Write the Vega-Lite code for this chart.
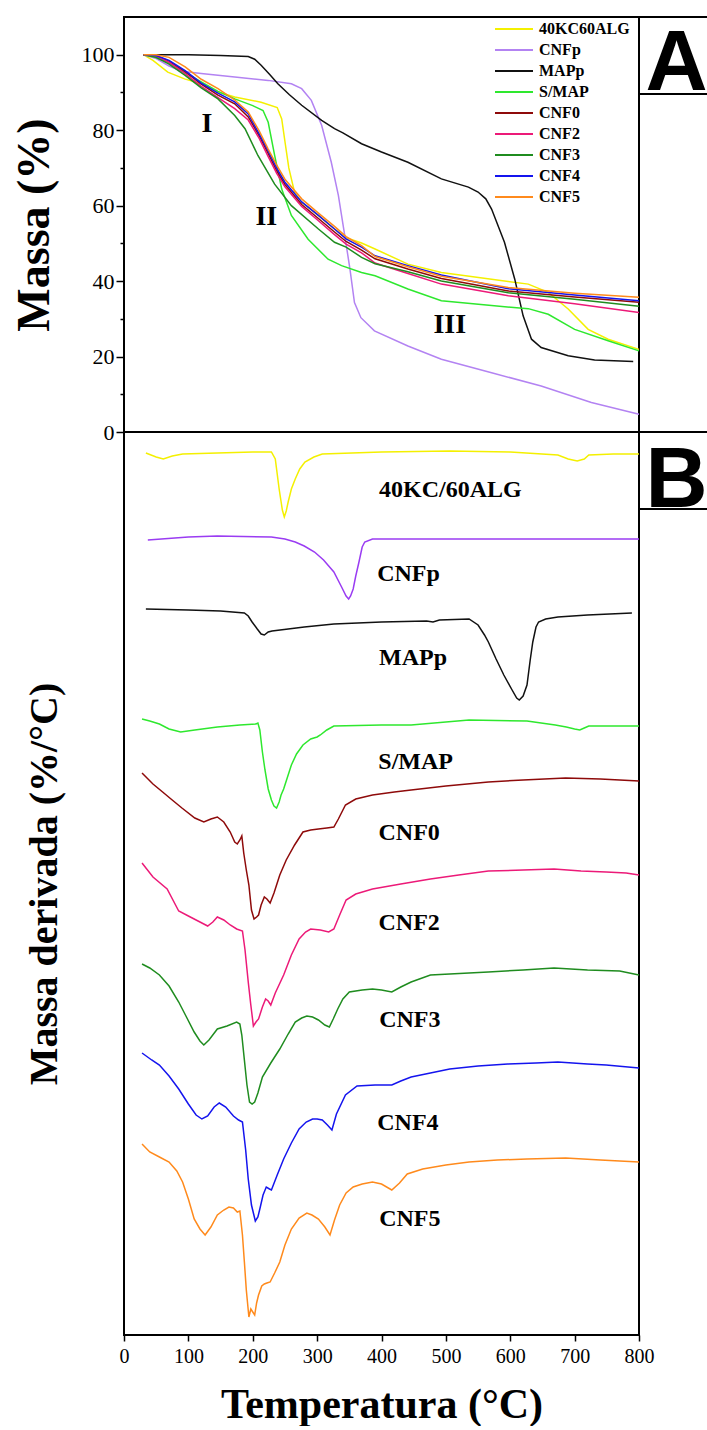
{
  "$schema": "https://vega.github.io/schema/vega-lite/v6.json",
  "padding": {"left": 10, "top": 15, "right": 0, "bottom": 0},
  "config": {
    "font": "Liberation Serif",
    "view": {"stroke": "black", "strokeWidth": 2},
    "axis": {
      "grid": false,
      "domain": false,
      "labelFont": "Liberation Serif",
      "labelColor": "black",
      "tickColor": "black",
      "tickWidth": 1.5,
      "titleFont": "Liberation Serif",
      "titleFontWeight": "bold",
      "titleColor": "black",
      "labelFlush": false
    }
  },
  "datasets": {
    "tga": [
      {"series": "40KC60ALG", "T": 30, "M": 100}, {"series": "40KC60ALG", "T": 45, "M": 98.5}, {"series": "40KC60ALG", "T": 68, "M": 95.4}, {"series": "40KC60ALG", "T": 94, "M": 93.6}, {"series": "40KC60ALG", "T": 120, "M": 92.3}, {"series": "40KC60ALG", "T": 146, "M": 90.1}, {"series": "40KC60ALG", "T": 172, "M": 88.8}, {"series": "40KC60ALG", "T": 213, "M": 87.4}, {"series": "40KC60ALG", "T": 238, "M": 86}, {"series": "40KC60ALG", "T": 245, "M": 83}, {"series": "40KC60ALG", "T": 250, "M": 77}, {"series": "40KC60ALG", "T": 256, "M": 70}, {"series": "40KC60ALG", "T": 265, "M": 63.5}, {"series": "40KC60ALG", "T": 276, "M": 60.9}, {"series": "40KC60ALG", "T": 302, "M": 57.4}, {"series": "40KC60ALG", "T": 327, "M": 53.8}, {"series": "40KC60ALG", "T": 345, "M": 51.5}, {"series": "40KC60ALG", "T": 369, "M": 50.1}, {"series": "40KC60ALG", "T": 390, "M": 48.5}, {"series": "40KC60ALG", "T": 441, "M": 44.5}, {"series": "40KC60ALG", "T": 493, "M": 42.3}, {"series": "40KC60ALG", "T": 571, "M": 40.5}, {"series": "40KC60ALG", "T": 628, "M": 39.2}, {"series": "40KC60ALG", "T": 659, "M": 37}, {"series": "40KC60ALG", "T": 690, "M": 32.6}, {"series": "40KC60ALG", "T": 721, "M": 27.2}, {"series": "40KC60ALG", "T": 752, "M": 24.6}, {"series": "40KC60ALG", "T": 800, "M": 21.9},
      {"series": "CNFp", "T": 30, "M": 100}, {"series": "CNFp", "T": 50, "M": 99}, {"series": "CNFp", "T": 70, "M": 97}, {"series": "CNFp", "T": 90, "M": 95.6}, {"series": "CNFp", "T": 120, "M": 95}, {"series": "CNFp", "T": 172, "M": 94.1}, {"series": "CNFp", "T": 224, "M": 93.2}, {"series": "CNFp", "T": 260, "M": 92.3}, {"series": "CNFp", "T": 276, "M": 91}, {"series": "CNFp", "T": 291, "M": 87.9}, {"series": "CNFp", "T": 307, "M": 81.3}, {"series": "CNFp", "T": 322, "M": 71.5}, {"series": "CNFp", "T": 333, "M": 62.7}, {"series": "CNFp", "T": 343, "M": 52}, {"series": "CNFp", "T": 351, "M": 43.2}, {"series": "CNFp", "T": 358, "M": 34.3}, {"series": "CNFp", "T": 368, "M": 30.3}, {"series": "CNFp", "T": 389, "M": 26.8}, {"series": "CNFp", "T": 441, "M": 22.8}, {"series": "CNFp", "T": 493, "M": 19.3}, {"series": "CNFp", "T": 571, "M": 15.7}, {"series": "CNFp", "T": 648, "M": 12.2}, {"series": "CNFp", "T": 726, "M": 7.8}, {"series": "CNFp", "T": 800, "M": 4.7},
      {"series": "MAPp", "T": 30, "M": 100}, {"series": "MAPp", "T": 100, "M": 100}, {"series": "MAPp", "T": 150, "M": 99.8}, {"series": "MAPp", "T": 193, "M": 99.5}, {"series": "MAPp", "T": 203, "M": 98.8}, {"series": "MAPp", "T": 213, "M": 97.2}, {"series": "MAPp", "T": 226, "M": 94.8}, {"series": "MAPp", "T": 239, "M": 92.3}, {"series": "MAPp", "T": 257, "M": 89.4}, {"series": "MAPp", "T": 276, "M": 86.6}, {"series": "MAPp", "T": 307, "M": 82.6}, {"series": "MAPp", "T": 327, "M": 80.4}, {"series": "MAPp", "T": 340, "M": 79.3}, {"series": "MAPp", "T": 369, "M": 76.4}, {"series": "MAPp", "T": 400, "M": 74.2}, {"series": "MAPp", "T": 441, "M": 71.5}, {"series": "MAPp", "T": 493, "M": 67.1}, {"series": "MAPp", "T": 535, "M": 64.9}, {"series": "MAPp", "T": 550, "M": 63.6}, {"series": "MAPp", "T": 562, "M": 61.8}, {"series": "MAPp", "T": 571, "M": 59.1}, {"series": "MAPp", "T": 591, "M": 50.3}, {"series": "MAPp", "T": 607, "M": 40.5}, {"series": "MAPp", "T": 620, "M": 30.8}, {"series": "MAPp", "T": 633, "M": 24.6}, {"series": "MAPp", "T": 648, "M": 22.4}, {"series": "MAPp", "T": 690, "M": 20.2}, {"series": "MAPp", "T": 731, "M": 19.1}, {"series": "MAPp", "T": 791, "M": 18.7},
      {"series": "S/MAP", "T": 30, "M": 100}, {"series": "S/MAP", "T": 45, "M": 99.5}, {"series": "S/MAP", "T": 69, "M": 98}, {"series": "S/MAP", "T": 95, "M": 95.3}, {"series": "S/MAP", "T": 120, "M": 92.8}, {"series": "S/MAP", "T": 146, "M": 90.3}, {"series": "S/MAP", "T": 172, "M": 88.3}, {"series": "S/MAP", "T": 200, "M": 86.5}, {"series": "S/MAP", "T": 216, "M": 85.2}, {"series": "S/MAP", "T": 224, "M": 82.1}, {"series": "S/MAP", "T": 234, "M": 73.3}, {"series": "S/MAP", "T": 245, "M": 64.4}, {"series": "S/MAP", "T": 260, "M": 57.4}, {"series": "S/MAP", "T": 286, "M": 51.1}, {"series": "S/MAP", "T": 317, "M": 45.8}, {"series": "S/MAP", "T": 338, "M": 44.1}, {"series": "S/MAP", "T": 369, "M": 42.3}, {"series": "S/MAP", "T": 390, "M": 41.4}, {"series": "S/MAP", "T": 441, "M": 37.9}, {"series": "S/MAP", "T": 493, "M": 34.8}, {"series": "S/MAP", "T": 571, "M": 33.5}, {"series": "S/MAP", "T": 628, "M": 32.7}, {"series": "S/MAP", "T": 659, "M": 31.2}, {"series": "S/MAP", "T": 700, "M": 27.2}, {"series": "S/MAP", "T": 752, "M": 24.2}, {"series": "S/MAP", "T": 800, "M": 21.5},
      {"series": "CNF0", "T": 30, "M": 100}, {"series": "CNF0", "T": 50, "M": 99.7}, {"series": "CNF0", "T": 70, "M": 98.3}, {"series": "CNF0", "T": 95, "M": 95.5}, {"series": "CNF0", "T": 120, "M": 92.2}, {"series": "CNF0", "T": 146, "M": 89.3}, {"series": "CNF0", "T": 172, "M": 87}, {"series": "CNF0", "T": 193, "M": 83.5}, {"series": "CNF0", "T": 210, "M": 78.5}, {"series": "CNF0", "T": 224, "M": 73.8}, {"series": "CNF0", "T": 237, "M": 69.3}, {"series": "CNF0", "T": 250, "M": 65.6}, {"series": "CNF0", "T": 276, "M": 60.3}, {"series": "CNF0", "T": 302, "M": 56.6}, {"series": "CNF0", "T": 327, "M": 53}, {"series": "CNF0", "T": 345, "M": 50.5}, {"series": "CNF0", "T": 369, "M": 48.2}, {"series": "CNF0", "T": 390, "M": 45.9}, {"series": "CNF0", "T": 441, "M": 43.2}, {"series": "CNF0", "T": 493, "M": 40.7}, {"series": "CNF0", "T": 597, "M": 37.4}, {"series": "CNF0", "T": 700, "M": 35.8}, {"series": "CNF0", "T": 800, "M": 34.4},
      {"series": "CNF2", "T": 30, "M": 100}, {"series": "CNF2", "T": 50, "M": 99.6}, {"series": "CNF2", "T": 70, "M": 98}, {"series": "CNF2", "T": 95, "M": 95}, {"series": "CNF2", "T": 120, "M": 91.6}, {"series": "CNF2", "T": 146, "M": 88.6}, {"series": "CNF2", "T": 172, "M": 85.7}, {"series": "CNF2", "T": 193, "M": 82.7}, {"series": "CNF2", "T": 210, "M": 77.8}, {"series": "CNF2", "T": 224, "M": 73}, {"series": "CNF2", "T": 237, "M": 68.6}, {"series": "CNF2", "T": 250, "M": 65}, {"series": "CNF2", "T": 276, "M": 59.8}, {"series": "CNF2", "T": 302, "M": 56}, {"series": "CNF2", "T": 327, "M": 52.3}, {"series": "CNF2", "T": 345, "M": 49.8}, {"series": "CNF2", "T": 369, "M": 47.5}, {"series": "CNF2", "T": 390, "M": 44.8}, {"series": "CNF2", "T": 441, "M": 42}, {"series": "CNF2", "T": 493, "M": 39.2}, {"series": "CNF2", "T": 597, "M": 36.1}, {"series": "CNF2", "T": 700, "M": 34}, {"series": "CNF2", "T": 800, "M": 31.7},
      {"series": "CNF3", "T": 30, "M": 100}, {"series": "CNF3", "T": 50, "M": 99.3}, {"series": "CNF3", "T": 70, "M": 97.5}, {"series": "CNF3", "T": 95, "M": 94.5}, {"series": "CNF3", "T": 120, "M": 91.2}, {"series": "CNF3", "T": 146, "M": 88.3}, {"series": "CNF3", "T": 172, "M": 83.9}, {"series": "CNF3", "T": 188, "M": 80.4}, {"series": "CNF3", "T": 208, "M": 73.3}, {"series": "CNF3", "T": 234, "M": 65.7}, {"series": "CNF3", "T": 260, "M": 60}, {"series": "CNF3", "T": 302, "M": 53.8}, {"series": "CNF3", "T": 327, "M": 50.3}, {"series": "CNF3", "T": 345, "M": 49}, {"series": "CNF3", "T": 369, "M": 46.3}, {"series": "CNF3", "T": 390, "M": 44.6}, {"series": "CNF3", "T": 441, "M": 42.5}, {"series": "CNF3", "T": 493, "M": 40}, {"series": "CNF3", "T": 597, "M": 36.9}, {"series": "CNF3", "T": 700, "M": 35.2}, {"series": "CNF3", "T": 800, "M": 33.3},
      {"series": "CNF4", "T": 30, "M": 100}, {"series": "CNF4", "T": 50, "M": 99.8}, {"series": "CNF4", "T": 70, "M": 98.5}, {"series": "CNF4", "T": 95, "M": 95.8}, {"series": "CNF4", "T": 120, "M": 92.5}, {"series": "CNF4", "T": 146, "M": 89.8}, {"series": "CNF4", "T": 172, "M": 87.5}, {"series": "CNF4", "T": 193, "M": 84.3}, {"series": "CNF4", "T": 210, "M": 79}, {"series": "CNF4", "T": 224, "M": 74.5}, {"series": "CNF4", "T": 237, "M": 70}, {"series": "CNF4", "T": 250, "M": 66.2}, {"series": "CNF4", "T": 276, "M": 61}, {"series": "CNF4", "T": 302, "M": 57.4}, {"series": "CNF4", "T": 327, "M": 53.8}, {"series": "CNF4", "T": 345, "M": 51.2}, {"series": "CNF4", "T": 369, "M": 49}, {"series": "CNF4", "T": 390, "M": 46.7}, {"series": "CNF4", "T": 441, "M": 44.1}, {"series": "CNF4", "T": 493, "M": 41.6}, {"series": "CNF4", "T": 597, "M": 38}, {"series": "CNF4", "T": 700, "M": 36.3}, {"series": "CNF4", "T": 800, "M": 34.8},
      {"series": "CNF5", "T": 30, "M": 100}, {"series": "CNF5", "T": 50, "M": 100}, {"series": "CNF5", "T": 70, "M": 99.3}, {"series": "CNF5", "T": 95, "M": 96.8}, {"series": "CNF5", "T": 120, "M": 93.5}, {"series": "CNF5", "T": 146, "M": 91}, {"series": "CNF5", "T": 172, "M": 88}, {"series": "CNF5", "T": 193, "M": 84.8}, {"series": "CNF5", "T": 210, "M": 79.8}, {"series": "CNF5", "T": 224, "M": 75}, {"series": "CNF5", "T": 237, "M": 70.8}, {"series": "CNF5", "T": 250, "M": 67}, {"series": "CNF5", "T": 276, "M": 61.8}, {"series": "CNF5", "T": 302, "M": 58}, {"series": "CNF5", "T": 327, "M": 54.5}, {"series": "CNF5", "T": 345, "M": 51.8}, {"series": "CNF5", "T": 369, "M": 49.4}, {"series": "CNF5", "T": 390, "M": 46.5}, {"series": "CNF5", "T": 441, "M": 43.8}, {"series": "CNF5", "T": 493, "M": 41.3}, {"series": "CNF5", "T": 597, "M": 38.3}, {"series": "CNF5", "T": 700, "M": 36.8}, {"series": "CNF5", "T": 800, "M": 35.7}
    ],
    "stages": [
      {"stage": "I", "T": 129, "M": 81.7},
      {"stage": "II", "T": 221, "M": 56.9},
      {"stage": "III", "T": 506, "M": 28.3}
    ],
    "dtg": [
      {"series": "40KC60ALG", "T": 34, "v": 88.2}, {"series": "40KC60ALG", "T": 50, "v": 87.8}, {"series": "40KC60ALG", "T": 61, "v": 87.6}, {"series": "40KC60ALG", "T": 75, "v": 87.9}, {"series": "40KC60ALG", "T": 91, "v": 88.1}, {"series": "40KC60ALG", "T": 145, "v": 88.2}, {"series": "40KC60ALG", "T": 200, "v": 88.3}, {"series": "40KC60ALG", "T": 229, "v": 88.3}, {"series": "40KC60ALG", "T": 235, "v": 87.6}, {"series": "40KC60ALG", "T": 241, "v": 84.6}, {"series": "40KC60ALG", "T": 246, "v": 82.5}, {"series": "40KC60ALG", "T": 249, "v": 81.8}, {"series": "40KC60ALG", "T": 252, "v": 82.4}, {"series": "40KC60ALG", "T": 255, "v": 83.3}, {"series": "40KC60ALG", "T": 260, "v": 84.6}, {"series": "40KC60ALG", "T": 266, "v": 85.6}, {"series": "40KC60ALG", "T": 273, "v": 86.6}, {"series": "40KC60ALG", "T": 281, "v": 87.3}, {"series": "40KC60ALG", "T": 295, "v": 87.8}, {"series": "40KC60ALG", "T": 308, "v": 88.1}, {"series": "40KC60ALG", "T": 400, "v": 88.3}, {"series": "40KC60ALG", "T": 506, "v": 88.4}, {"series": "40KC60ALG", "T": 600, "v": 88.3}, {"series": "40KC60ALG", "T": 674, "v": 88.0}, {"series": "40KC60ALG", "T": 690, "v": 87.6}, {"series": "40KC60ALG", "T": 704, "v": 87.4}, {"series": "40KC60ALG", "T": 715, "v": 87.6}, {"series": "40KC60ALG", "T": 722, "v": 88.0}, {"series": "40KC60ALG", "T": 760, "v": 88.1}, {"series": "40KC60ALG", "T": 800, "v": 88.1},
      {"series": "CNFp", "T": 37, "v": 79.5}, {"series": "CNFp", "T": 100, "v": 79.8}, {"series": "CNFp", "T": 145, "v": 79.9}, {"series": "CNFp", "T": 229, "v": 79.8}, {"series": "CNFp", "T": 250, "v": 79.6}, {"series": "CNFp", "T": 266, "v": 79.3}, {"series": "CNFp", "T": 280, "v": 78.9}, {"series": "CNFp", "T": 296, "v": 78.3}, {"series": "CNFp", "T": 310, "v": 77.5}, {"series": "CNFp", "T": 326, "v": 76.3}, {"series": "CNFp", "T": 338, "v": 74.8}, {"series": "CNFp", "T": 345, "v": 73.9}, {"series": "CNFp", "T": 349, "v": 73.6}, {"series": "CNFp", "T": 352, "v": 73.9}, {"series": "CNFp", "T": 356, "v": 74.6}, {"series": "CNFp", "T": 360, "v": 75.9}, {"series": "CNFp", "T": 365, "v": 77.3}, {"series": "CNFp", "T": 370, "v": 78.8}, {"series": "CNFp", "T": 374, "v": 79.3}, {"series": "CNFp", "T": 386, "v": 79.6}, {"series": "CNFp", "T": 500, "v": 79.6}, {"series": "CNFp", "T": 650, "v": 79.6}, {"series": "CNFp", "T": 800, "v": 79.6},
      {"series": "MAPp", "T": 34, "v": 72.6}, {"series": "MAPp", "T": 100, "v": 72.5}, {"series": "MAPp", "T": 150, "v": 72.4}, {"series": "MAPp", "T": 187, "v": 72.2}, {"series": "MAPp", "T": 193, "v": 71.9}, {"series": "MAPp", "T": 199, "v": 71.3}, {"series": "MAPp", "T": 207, "v": 70.6}, {"series": "MAPp", "T": 213, "v": 70.1}, {"series": "MAPp", "T": 218, "v": 70.0}, {"series": "MAPp", "T": 224, "v": 70.3}, {"series": "MAPp", "T": 230, "v": 70.4}, {"series": "MAPp", "T": 280, "v": 70.8}, {"series": "MAPp", "T": 326, "v": 71.1}, {"series": "MAPp", "T": 400, "v": 71.3}, {"series": "MAPp", "T": 470, "v": 71.4}, {"series": "MAPp", "T": 480, "v": 71.3}, {"series": "MAPp", "T": 490, "v": 71.5}, {"series": "MAPp", "T": 536, "v": 71.6}, {"series": "MAPp", "T": 550, "v": 71.0}, {"series": "MAPp", "T": 560, "v": 70.0}, {"series": "MAPp", "T": 566, "v": 69.3}, {"series": "MAPp", "T": 578, "v": 67.6}, {"series": "MAPp", "T": 590, "v": 66.0}, {"series": "MAPp", "T": 602, "v": 64.6}, {"series": "MAPp", "T": 610, "v": 63.7}, {"series": "MAPp", "T": 614, "v": 63.5}, {"series": "MAPp", "T": 620, "v": 63.9}, {"series": "MAPp", "T": 626, "v": 65.0}, {"series": "MAPp", "T": 631, "v": 67.5}, {"series": "MAPp", "T": 635, "v": 69.3}, {"series": "MAPp", "T": 640, "v": 70.8}, {"series": "MAPp", "T": 644, "v": 71.3}, {"series": "MAPp", "T": 655, "v": 71.6}, {"series": "MAPp", "T": 674, "v": 71.8}, {"series": "MAPp", "T": 720, "v": 72.0}, {"series": "MAPp", "T": 789, "v": 72.2},
      {"series": "S/MAP", "T": 28, "v": 61.6}, {"series": "S/MAP", "T": 40, "v": 61.4}, {"series": "S/MAP", "T": 55, "v": 61.1}, {"series": "S/MAP", "T": 70, "v": 60.6}, {"series": "S/MAP", "T": 88, "v": 60.3}, {"series": "S/MAP", "T": 110, "v": 60.5}, {"series": "S/MAP", "T": 145, "v": 60.8}, {"series": "S/MAP", "T": 180, "v": 61.0}, {"series": "S/MAP", "T": 205, "v": 61.1}, {"series": "S/MAP", "T": 208, "v": 61.2}, {"series": "S/MAP", "T": 211, "v": 60.5}, {"series": "S/MAP", "T": 215, "v": 58.3}, {"series": "S/MAP", "T": 219, "v": 56.5}, {"series": "S/MAP", "T": 224, "v": 54.6}, {"series": "S/MAP", "T": 229, "v": 53.5}, {"series": "S/MAP", "T": 233, "v": 52.9}, {"series": "S/MAP", "T": 237, "v": 52.7}, {"series": "S/MAP", "T": 241, "v": 53.3}, {"series": "S/MAP", "T": 244, "v": 54}, {"series": "S/MAP", "T": 248, "v": 54.6}, {"series": "S/MAP", "T": 254, "v": 55.8}, {"series": "S/MAP", "T": 260, "v": 57}, {"series": "S/MAP", "T": 268, "v": 58.1}, {"series": "S/MAP", "T": 278, "v": 59}, {"series": "S/MAP", "T": 290, "v": 59.6}, {"series": "S/MAP", "T": 300, "v": 59.8}, {"series": "S/MAP", "T": 305, "v": 60}, {"series": "S/MAP", "T": 315, "v": 60.5}, {"series": "S/MAP", "T": 326, "v": 60.9}, {"series": "S/MAP", "T": 400, "v": 61}, {"series": "S/MAP", "T": 446, "v": 61}, {"series": "S/MAP", "T": 536, "v": 61.5}, {"series": "S/MAP", "T": 626, "v": 61.4}, {"series": "S/MAP", "T": 670, "v": 61.0}, {"series": "S/MAP", "T": 687, "v": 60.8}, {"series": "S/MAP", "T": 700, "v": 60.6}, {"series": "S/MAP", "T": 708, "v": 60.5}, {"series": "S/MAP", "T": 715, "v": 60.7}, {"series": "S/MAP", "T": 722, "v": 60.9}, {"series": "S/MAP", "T": 760, "v": 60.9}, {"series": "S/MAP", "T": 800, "v": 60.9},
      {"series": "CNF0", "T": 28, "v": 56.2}, {"series": "CNF0", "T": 45, "v": 55.1}, {"series": "CNF0", "T": 60, "v": 54.3}, {"series": "CNF0", "T": 73, "v": 53.6}, {"series": "CNF0", "T": 90, "v": 52.7}, {"series": "CNF0", "T": 110, "v": 51.7}, {"series": "CNF0", "T": 124, "v": 51.3}, {"series": "CNF0", "T": 135, "v": 51.6}, {"series": "CNF0", "T": 145, "v": 51.8}, {"series": "CNF0", "T": 155, "v": 51.3}, {"series": "CNF0", "T": 165, "v": 50.3}, {"series": "CNF0", "T": 172, "v": 49.3}, {"series": "CNF0", "T": 176, "v": 49.1}, {"series": "CNF0", "T": 180, "v": 49.5}, {"series": "CNF0", "T": 183, "v": 49.9}, {"series": "CNF0", "T": 186, "v": 48.2}, {"series": "CNF0", "T": 190, "v": 46.5}, {"series": "CNF0", "T": 194, "v": 45.0}, {"series": "CNF0", "T": 198, "v": 42.5}, {"series": "CNF0", "T": 202, "v": 41.6}, {"series": "CNF0", "T": 206, "v": 41.8}, {"series": "CNF0", "T": 209, "v": 42.0}, {"series": "CNF0", "T": 213, "v": 43.0}, {"series": "CNF0", "T": 218, "v": 43.8}, {"series": "CNF0", "T": 222, "v": 43.6}, {"series": "CNF0", "T": 227, "v": 43.2}, {"series": "CNF0", "T": 233, "v": 44.2}, {"series": "CNF0", "T": 242, "v": 46}, {"series": "CNF0", "T": 252, "v": 47.5}, {"series": "CNF0", "T": 265, "v": 49}, {"series": "CNF0", "T": 278, "v": 50.3}, {"series": "CNF0", "T": 290, "v": 50.5}, {"series": "CNF0", "T": 302, "v": 50.6}, {"series": "CNF0", "T": 315, "v": 50.7}, {"series": "CNF0", "T": 326, "v": 50.8}, {"series": "CNF0", "T": 333, "v": 51.6}, {"series": "CNF0", "T": 344, "v": 53}, {"series": "CNF0", "T": 360, "v": 53.6}, {"series": "CNF0", "T": 386, "v": 54}, {"series": "CNF0", "T": 420, "v": 54.3}, {"series": "CNF0", "T": 446, "v": 54.5}, {"series": "CNF0", "T": 500, "v": 54.9}, {"series": "CNF0", "T": 566, "v": 55.3}, {"series": "CNF0", "T": 620, "v": 55.5}, {"series": "CNF0", "T": 686, "v": 55.7}, {"series": "CNF0", "T": 740, "v": 55.6}, {"series": "CNF0", "T": 800, "v": 55.4},
      {"series": "CNF2", "T": 28, "v": 47.2}, {"series": "CNF2", "T": 45, "v": 45.8}, {"series": "CNF2", "T": 67, "v": 44.6}, {"series": "CNF2", "T": 85, "v": 42.4}, {"series": "CNF2", "T": 100, "v": 41.9}, {"series": "CNF2", "T": 115, "v": 41.4}, {"series": "CNF2", "T": 130, "v": 40.9}, {"series": "CNF2", "T": 138, "v": 41.3}, {"series": "CNF2", "T": 145, "v": 41.8}, {"series": "CNF2", "T": 155, "v": 41.5}, {"series": "CNF2", "T": 165, "v": 41}, {"series": "CNF2", "T": 175, "v": 40.6}, {"series": "CNF2", "T": 184, "v": 40.4}, {"series": "CNF2", "T": 188, "v": 38.5}, {"series": "CNF2", "T": 193, "v": 35.3}, {"series": "CNF2", "T": 197, "v": 33}, {"series": "CNF2", "T": 201, "v": 30.9}, {"series": "CNF2", "T": 205, "v": 31.3}, {"series": "CNF2", "T": 209, "v": 31.6}, {"series": "CNF2", "T": 215, "v": 32.8}, {"series": "CNF2", "T": 220, "v": 33.6}, {"series": "CNF2", "T": 224, "v": 33.4}, {"series": "CNF2", "T": 228, "v": 33}, {"series": "CNF2", "T": 235, "v": 34.2}, {"series": "CNF2", "T": 248, "v": 36}, {"series": "CNF2", "T": 260, "v": 38}, {"series": "CNF2", "T": 272, "v": 39.6}, {"series": "CNF2", "T": 282, "v": 40.3}, {"series": "CNF2", "T": 290, "v": 40.6}, {"series": "CNF2", "T": 305, "v": 40.5}, {"series": "CNF2", "T": 318, "v": 40.3}, {"series": "CNF2", "T": 326, "v": 40.6}, {"series": "CNF2", "T": 335, "v": 42}, {"series": "CNF2", "T": 345, "v": 43.5}, {"series": "CNF2", "T": 360, "v": 44.1}, {"series": "CNF2", "T": 386, "v": 44.6}, {"series": "CNF2", "T": 430, "v": 45.1}, {"series": "CNF2", "T": 476, "v": 45.6}, {"series": "CNF2", "T": 520, "v": 46}, {"series": "CNF2", "T": 566, "v": 46.4}, {"series": "CNF2", "T": 620, "v": 46.5}, {"series": "CNF2", "T": 668, "v": 46.6}, {"series": "CNF2", "T": 710, "v": 46.4}, {"series": "CNF2", "T": 749, "v": 46.3}, {"series": "CNF2", "T": 780, "v": 46.2}, {"series": "CNF2", "T": 800, "v": 46},
      {"series": "CNF3", "T": 28, "v": 37.1}, {"series": "CNF3", "T": 40, "v": 36.7}, {"series": "CNF3", "T": 55, "v": 36}, {"series": "CNF3", "T": 70, "v": 34.9}, {"series": "CNF3", "T": 85, "v": 33.3}, {"series": "CNF3", "T": 97, "v": 31.8}, {"series": "CNF3", "T": 109, "v": 30.3}, {"series": "CNF3", "T": 118, "v": 29.4}, {"series": "CNF3", "T": 124, "v": 29}, {"series": "CNF3", "T": 132, "v": 29.5}, {"series": "CNF3", "T": 145, "v": 30.6}, {"series": "CNF3", "T": 160, "v": 30.9}, {"series": "CNF3", "T": 175, "v": 31.3}, {"series": "CNF3", "T": 180, "v": 31.1}, {"series": "CNF3", "T": 183, "v": 30}, {"series": "CNF3", "T": 187, "v": 27.5}, {"series": "CNF3", "T": 191, "v": 25}, {"series": "CNF3", "T": 195, "v": 23.3}, {"series": "CNF3", "T": 199, "v": 23.1}, {"series": "CNF3", "T": 203, "v": 23.3}, {"series": "CNF3", "T": 208, "v": 24.2}, {"series": "CNF3", "T": 215, "v": 25.8}, {"series": "CNF3", "T": 228, "v": 27.2}, {"series": "CNF3", "T": 242, "v": 28.6}, {"series": "CNF3", "T": 255, "v": 30.1}, {"series": "CNF3", "T": 266, "v": 31.3}, {"series": "CNF3", "T": 276, "v": 31.7}, {"series": "CNF3", "T": 284, "v": 31.9}, {"series": "CNF3", "T": 293, "v": 31.8}, {"series": "CNF3", "T": 302, "v": 31.5}, {"series": "CNF3", "T": 312, "v": 31}, {"series": "CNF3", "T": 319, "v": 30.8}, {"series": "CNF3", "T": 325, "v": 31.6}, {"series": "CNF3", "T": 332, "v": 32.6}, {"series": "CNF3", "T": 340, "v": 33.6}, {"series": "CNF3", "T": 350, "v": 34.3}, {"series": "CNF3", "T": 370, "v": 34.5}, {"series": "CNF3", "T": 386, "v": 34.6}, {"series": "CNF3", "T": 400, "v": 34.5}, {"series": "CNF3", "T": 416, "v": 34.3}, {"series": "CNF3", "T": 430, "v": 34.8}, {"series": "CNF3", "T": 446, "v": 35.3}, {"series": "CNF3", "T": 476, "v": 36}, {"series": "CNF3", "T": 566, "v": 36.3}, {"series": "CNF3", "T": 620, "v": 36.5}, {"series": "CNF3", "T": 668, "v": 36.7}, {"series": "CNF3", "T": 720, "v": 36.5}, {"series": "CNF3", "T": 770, "v": 36.4}, {"series": "CNF3", "T": 800, "v": 36},
      {"series": "CNF4", "T": 28, "v": 28.2}, {"series": "CNF4", "T": 43, "v": 27.5}, {"series": "CNF4", "T": 55, "v": 27}, {"series": "CNF4", "T": 70, "v": 25.9}, {"series": "CNF4", "T": 85, "v": 24.6}, {"series": "CNF4", "T": 100, "v": 23.1}, {"series": "CNF4", "T": 112, "v": 22}, {"series": "CNF4", "T": 121, "v": 21.6}, {"series": "CNF4", "T": 130, "v": 21.9}, {"series": "CNF4", "T": 140, "v": 22.8}, {"series": "CNF4", "T": 148, "v": 23.2}, {"series": "CNF4", "T": 158, "v": 22.8}, {"series": "CNF4", "T": 170, "v": 21.9}, {"series": "CNF4", "T": 178, "v": 21.5}, {"series": "CNF4", "T": 184, "v": 21.3}, {"series": "CNF4", "T": 189, "v": 18.5}, {"series": "CNF4", "T": 193, "v": 15.6}, {"series": "CNF4", "T": 198, "v": 13}, {"series": "CNF4", "T": 204, "v": 11.4}, {"series": "CNF4", "T": 208, "v": 11.8}, {"series": "CNF4", "T": 211, "v": 12.6}, {"series": "CNF4", "T": 216, "v": 14}, {"series": "CNF4", "T": 221, "v": 14.8}, {"series": "CNF4", "T": 226, "v": 14.6}, {"series": "CNF4", "T": 229, "v": 14.5}, {"series": "CNF4", "T": 238, "v": 16}, {"series": "CNF4", "T": 248, "v": 17.6}, {"series": "CNF4", "T": 260, "v": 19.2}, {"series": "CNF4", "T": 272, "v": 20.6}, {"series": "CNF4", "T": 283, "v": 21.3}, {"series": "CNF4", "T": 293, "v": 21.6}, {"series": "CNF4", "T": 300, "v": 21.6}, {"series": "CNF4", "T": 308, "v": 21.5}, {"series": "CNF4", "T": 316, "v": 21}, {"series": "CNF4", "T": 323, "v": 20.5}, {"series": "CNF4", "T": 330, "v": 22.1}, {"series": "CNF4", "T": 344, "v": 24}, {"series": "CNF4", "T": 362, "v": 24.9}, {"series": "CNF4", "T": 390, "v": 25}, {"series": "CNF4", "T": 416, "v": 25}, {"series": "CNF4", "T": 430, "v": 25.4}, {"series": "CNF4", "T": 446, "v": 25.8}, {"series": "CNF4", "T": 476, "v": 26.2}, {"series": "CNF4", "T": 506, "v": 26.6}, {"series": "CNF4", "T": 550, "v": 26.9}, {"series": "CNF4", "T": 596, "v": 27.1}, {"series": "CNF4", "T": 640, "v": 27.2}, {"series": "CNF4", "T": 674, "v": 27.3}, {"series": "CNF4", "T": 720, "v": 27.1}, {"series": "CNF4", "T": 749, "v": 27}, {"series": "CNF4", "T": 800, "v": 26.7},
      {"series": "CNF5", "T": 28, "v": 19.1}, {"series": "CNF5", "T": 40, "v": 18.3}, {"series": "CNF5", "T": 55, "v": 17.8}, {"series": "CNF5", "T": 70, "v": 17.3}, {"series": "CNF5", "T": 82, "v": 16.4}, {"series": "CNF5", "T": 91, "v": 15.3}, {"series": "CNF5", "T": 100, "v": 13.6}, {"series": "CNF5", "T": 109, "v": 11.6}, {"series": "CNF5", "T": 118, "v": 10.6}, {"series": "CNF5", "T": 126, "v": 10}, {"series": "CNF5", "T": 135, "v": 10.8}, {"series": "CNF5", "T": 145, "v": 12}, {"series": "CNF5", "T": 155, "v": 12.5}, {"series": "CNF5", "T": 163, "v": 12.8}, {"series": "CNF5", "T": 170, "v": 12.7}, {"series": "CNF5", "T": 176, "v": 12.3}, {"series": "CNF5", "T": 180, "v": 12.4}, {"series": "CNF5", "T": 184, "v": 10}, {"series": "CNF5", "T": 187, "v": 7.3}, {"series": "CNF5", "T": 190, "v": 4.5}, {"series": "CNF5", "T": 194, "v": 1.8}, {"series": "CNF5", "T": 197, "v": 2.6}, {"series": "CNF5", "T": 199, "v": 2.4}, {"series": "CNF5", "T": 203, "v": 2.0}, {"series": "CNF5", "T": 206, "v": 3.2}, {"series": "CNF5", "T": 209, "v": 4}, {"series": "CNF5", "T": 214, "v": 4.9}, {"series": "CNF5", "T": 218, "v": 5.1}, {"series": "CNF5", "T": 222, "v": 5.2}, {"series": "CNF5", "T": 227, "v": 5.3}, {"series": "CNF5", "T": 234, "v": 6.2}, {"series": "CNF5", "T": 242, "v": 7.3}, {"series": "CNF5", "T": 250, "v": 9}, {"series": "CNF5", "T": 260, "v": 10.6}, {"series": "CNF5", "T": 272, "v": 11.7}, {"series": "CNF5", "T": 284, "v": 12.2}, {"series": "CNF5", "T": 292, "v": 12}, {"series": "CNF5", "T": 302, "v": 11.6}, {"series": "CNF5", "T": 312, "v": 10.8}, {"series": "CNF5", "T": 320, "v": 10}, {"series": "CNF5", "T": 327, "v": 11.5}, {"series": "CNF5", "T": 335, "v": 13}, {"series": "CNF5", "T": 345, "v": 14.2}, {"series": "CNF5", "T": 356, "v": 14.8}, {"series": "CNF5", "T": 370, "v": 15.1}, {"series": "CNF5", "T": 386, "v": 15.3}, {"series": "CNF5", "T": 400, "v": 15.1}, {"series": "CNF5", "T": 416, "v": 14.5}, {"series": "CNF5", "T": 428, "v": 15.2}, {"series": "CNF5", "T": 440, "v": 16.1}, {"series": "CNF5", "T": 464, "v": 16.6}, {"series": "CNF5", "T": 500, "v": 17}, {"series": "CNF5", "T": 536, "v": 17.3}, {"series": "CNF5", "T": 580, "v": 17.5}, {"series": "CNF5", "T": 626, "v": 17.6}, {"series": "CNF5", "T": 686, "v": 17.7}, {"series": "CNF5", "T": 740, "v": 17.5}, {"series": "CNF5", "T": 800, "v": 17.3}
    ],
    "dtgLabels": [
      {"name": "40KC/60ALG", "T": 507, "v": 84.5},
      {"name": "CNFp", "T": 442, "v": 76.1},
      {"name": "MAPp", "T": 449, "v": 67.7},
      {"name": "S/MAP", "T": 453, "v": 57.3},
      {"name": "CNF0", "T": 443, "v": 50.2},
      {"name": "CNF2", "T": 443, "v": 41.2},
      {"name": "CNF3", "T": 444, "v": 31.5},
      {"name": "CNF4", "T": 441, "v": 21.2},
      {"name": "CNF5", "T": 444, "v": 11.6}
    ]
  },
  "vconcat": [
    {
      "width": 515,
      "height": 415,
      "layer": [
        {
          "data": {"name": "tga"},
          "mark": {"type": "line", "strokeWidth": 1.5},
          "encoding": {
            "x": {"field": "T", "type": "quantitative", "scale": {"domain": [0, 800], "nice": false}, "axis": null},
            "y": {
              "field": "M", "type": "quantitative",
              "scale": {"domain": [0, 110], "nice": false},
              "axis": {
                "title": "Massa (%)",
                "titleFontSize": 46,
                "titlePadding": 23,
                "values": [0, 10, 20, 30, 40, 50, 60, 70, 80, 90, 100],
                "labelExpr": "datum.value % 20 === 0 ? datum.label : ''",
                "labelFontSize": 22,
                "labelPadding": 2,
                "tickSize": {"condition": {"test": "datum.value % 20 !== 0", "value": 4}, "value": 8}
              }
            },
            "color": {
              "field": "series", "type": "nominal",
              "scale": {
                "domain": ["40KC60ALG", "CNFp", "MAPp", "S/MAP", "CNF0", "CNF2", "CNF3", "CNF4", "CNF5"],
                "range": ["#f4f000", "#b383f2", "#111111", "#2ee82e", "#8e0a0a", "#ec1a78", "#1f8c1f", "#1414ee", "#ff8a1c"]
              },
              "legend": {
                "title": null,
                "orient": "none",
                "legendX": 382,
                "legendY": 4,
                "padding": 0,
                "symbolType": "M-3.8,0H3.8",
                "symbolSize": 100,
                "symbolStrokeWidth": 2,
                "labelFont": "Liberation Serif",
                "labelFontSize": 16,
                "labelFontWeight": "bold",
                "labelColor": "black",
                "labelOffset": 17,
                "rowPadding": 5,
                "labelLimit": 200
              }
            }
          }
        },
        {
          "data": {"name": "stages"},
          "mark": {"type": "text", "font": "Liberation Serif", "fontWeight": "bold", "fontSize": 28, "color": "black"},
          "encoding": {
            "x": {"field": "T", "type": "quantitative"},
            "y": {"field": "M", "type": "quantitative"},
            "text": {"field": "stage"}
          }
        },
        {
          "data": {"values": [{}]},
          "mark": {"type": "rule", "color": "black", "strokeWidth": 2},
          "encoding": {"x": {"datum": 800}, "x2": {"datum": 912}, "y": {"datum": 110}}
        },
        {
          "data": {"values": [{}]},
          "mark": {"type": "rule", "color": "black", "strokeWidth": 2},
          "encoding": {"x": {"datum": 800}, "x2": {"datum": 912}, "y": {"datum": 89.56}}
        },
        {
          "data": {"values": [{}]},
          "mark": {"type": "rule", "color": "black", "strokeWidth": 2},
          "encoding": {"x": {"datum": 800}, "x2": {"datum": 912}, "y": {"datum": 0}}
        },
        {
          "data": {"values": [{}]},
          "mark": {"type": "text", "text": "A", "font": "Liberation Sans", "fontWeight": "bold", "fontSize": 86, "align": "left", "baseline": "alphabetic", "color": "black"},
          "encoding": {"x": {"datum": 810}, "y": {"datum": 90.55}}
        }
      ]
    },
    {
      "width": 515,
      "height": 903,
      "layer": [
        {
          "data": {"name": "dtg"},
          "mark": {"type": "line", "strokeWidth": 1.5},
          "encoding": {
            "x": {
              "field": "T", "type": "quantitative",
              "scale": {"domain": [0, 800], "nice": false},
              "axis": {
                "title": "Temperatura (°C)",
                "titleFontSize": 42,
                "titlePadding": 18,
                "values": [0, 50, 100, 150, 200, 250, 300, 350, 400, 450, 500, 550, 600, 650, 700, 750, 800],
                "labelExpr": "datum.value % 100 === 0 ? datum.label : ''",
                "labelFontSize": 20,
                "labelPadding": 5,
                "tickSize": {"condition": {"test": "datum.value % 100 !== 0", "value": 3}, "value": 6}
              }
            },
            "y": {
              "field": "v", "type": "quantitative",
              "scale": {"domain": [0, 90.3], "nice": false},
              "axis": {
                "title": "Massa derivada (%/°C)",
                "titleFontSize": 40,
                "titlePadding": 60,
                "labels": false,
                "ticks": false
              }
            },
            "color": {
              "field": "series", "type": "nominal",
              "scale": {
                "domain": ["40KC60ALG", "CNFp", "MAPp", "S/MAP", "CNF0", "CNF2", "CNF3", "CNF4", "CNF5"],
                "range": ["#f4f000", "#9a3cf2", "#111111", "#2ee82e", "#8e0a0a", "#ec1a78", "#1f8c1f", "#1414ee", "#ff8a1c"]
              },
              "legend": null
            }
          }
        },
        {
          "data": {"name": "dtgLabels"},
          "mark": {"type": "text", "font": "Liberation Serif", "fontWeight": "bold", "fontSize": 24, "color": "black"},
          "encoding": {
            "x": {"field": "T", "type": "quantitative"},
            "y": {"field": "v", "type": "quantitative"},
            "text": {"field": "name"}
          }
        },
        {
          "data": {"values": [{}]},
          "mark": {"type": "rule", "color": "black", "strokeWidth": 2},
          "encoding": {"x": {"datum": 800}, "x2": {"datum": 912}, "y": {"datum": 82.6}}
        },
        {
          "data": {"values": [{}]},
          "mark": {"type": "text", "text": "B", "font": "Liberation Sans", "fontWeight": "bold", "fontSize": 86, "align": "left", "baseline": "alphabetic", "color": "black"},
          "encoding": {"x": {"datum": 810}, "y": {"datum": 82.8}}
        }
      ]
    }
  ],
  "spacing": 0,
  "bounds": "flush",
  "resolve": {"scale": {"color": "independent"}, "legend": {"color": "independent"}}
}
